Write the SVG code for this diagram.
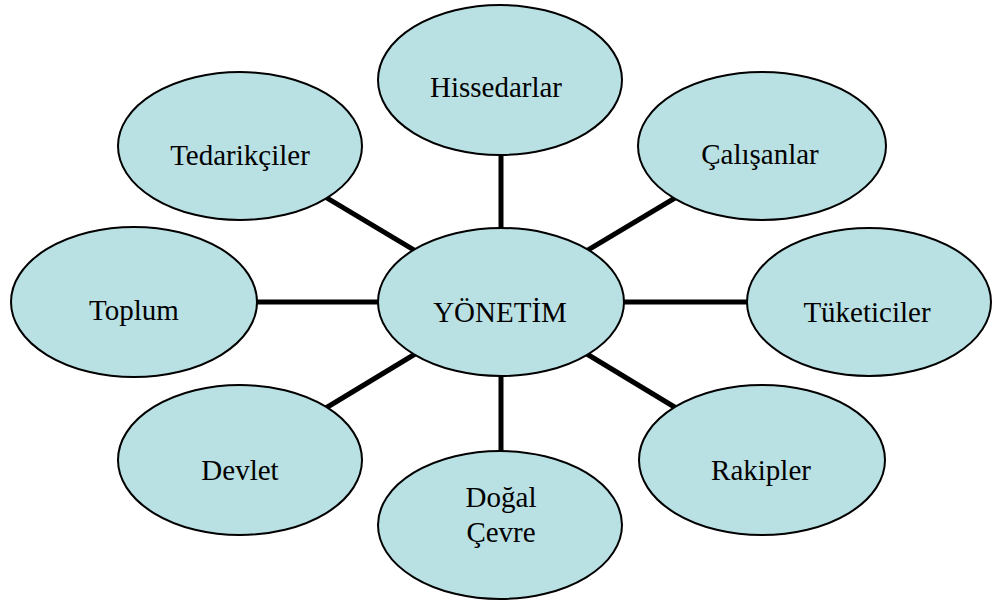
<svg xmlns="http://www.w3.org/2000/svg" width="992" height="604" viewBox="0 0 992 604">
<style>
.n{fill:#B9E0E3;stroke:#000;stroke-width:2}
.t{font-family:"Liberation Serif","Times New Roman",serif;font-size:29px;fill:#000;text-anchor:middle}
.c{stroke:#000;stroke-width:5;fill:none}
</style>
<rect width="992" height="604" fill="#fff"/>
<g id="connectors">
<line class="c" x1="501" y1="302" x2="501" y2="80"/>
<line class="c" x1="501" y1="302" x2="501" y2="525"/>
<line class="c" x1="501" y1="302" x2="134" y2="302"/>
<line class="c" x1="501" y1="302" x2="869" y2="302"/>
<line class="c" x1="501" y1="302" x2="240" y2="146"/>
<line class="c" x1="501" y1="302" x2="762" y2="146"/>
<line class="c" x1="501" y1="302" x2="240" y2="460"/>
<line class="c" x1="501" y1="302" x2="762" y2="460"/>
</g>
<g id="hissedarlar"><ellipse class="n" cx="500" cy="80" rx="122" ry="75"/><text class="t" x="496" y="97">Hissedarlar</text></g>
<g id="tedarikciler"><ellipse class="n" cx="240" cy="146" rx="122" ry="74"/><text class="t" x="240" y="165">Tedarikçiler</text></g>
<g id="calisanlar"><ellipse class="n" cx="762" cy="146" rx="124" ry="74"/><text class="t" x="760" y="164">Çalışanlar</text></g>
<g id="toplum"><ellipse class="n" cx="134" cy="302" rx="123" ry="75"/><text class="t" x="134" y="320">Toplum</text></g>
<g id="yonetim"><ellipse class="n" cx="501" cy="302" rx="123" ry="74"/><text class="t" x="500" y="322">YÖNETİM</text></g>
<g id="tuketiciler"><ellipse class="n" cx="869" cy="302" rx="122" ry="74"/><text class="t" x="867" y="322">Tüketiciler</text></g>
<g id="devlet"><ellipse class="n" cx="240" cy="460" rx="122" ry="75"/><text class="t" x="240" y="480">Devlet</text></g>
<g id="dogal-cevre"><ellipse class="n" cx="500" cy="525" rx="122" ry="74"/><text class="t" x="501" y="507">Doğal</text><text class="t" x="501" y="542">Çevre</text></g>
<g id="rakipler"><ellipse class="n" cx="762" cy="460" rx="123" ry="75"/><text class="t" x="761" y="480">Rakipler</text></g>
</svg>
